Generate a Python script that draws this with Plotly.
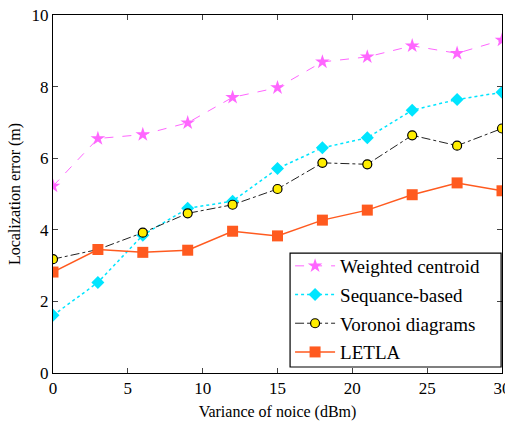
import plotly.graph_objects as go

x_vals = [0, 3, 6, 9, 12, 15, 18, 21, 24, 27, 30]
weighted_centroid = [5.22, 6.55, 6.66, 6.99, 7.70, 7.97, 8.69, 8.83, 9.14, 8.93, 9.30]
sequance_based = [1.61, 2.53, 3.85, 4.60, 4.80, 5.71, 6.29, 6.57, 7.34, 7.64, 7.84]
voronoi = [3.18, 3.45, 3.92, 4.46, 4.70, 5.14, 5.87, 5.83, 6.64, 6.35, 6.83]
letla = [2.82, 3.45, 3.37, 3.43, 3.96, 3.83, 4.27, 4.55, 4.98, 5.31, 5.09]

x_ticks = [0, 5, 10, 15, 20, 25, 30]
y_ticks = [0, 2, 4, 6, 8, 10]

FONT = "Liberation Serif"

fig = go.Figure()
fig.add_trace(go.Scatter(
    x=x_vals, y=weighted_centroid, name="Weighted centroid", mode="lines+markers", legendgroup="a",
    line=dict(color="#ff66ff", width=1, dash="dash"),
    marker=dict(symbol="star", size=11, color="#ff66ff", line=dict(width=0)),
))
fig.add_trace(go.Scatter(
    x=x_vals, y=sequance_based, name="Sequance-based", mode="lines+markers", legendgroup="b",
    line=dict(color="#00e5ff", width=1.5, dash="dot"),
    marker=dict(symbol="diamond", size=10, color="#00e5ff", line=dict(width=0)),
))
fig.add_trace(go.Scatter(
    x=x_vals, y=voronoi, name="Voronoi diagrams", mode="lines+markers", legendgroup="c",
    line=dict(color="#222222", width=1, dash="dashdot"),
    marker=dict(symbol="circle", size=9, color="#ffee00", line=dict(color="black", width=1.2)),
))
fig.add_trace(go.Scatter(
    x=x_vals, y=letla, name="LETLA", mode="lines+markers", legendgroup="d",
    line=dict(color="#ff5a1f", width=1.5),
    marker=dict(symbol="square", size=11, color="#ff5a1f", line=dict(width=0)),
))

# legend frame (matlab-style box)
fig.add_shape(type="rect", xref="paper", yref="paper", x0=0.528, x1=0.998, y0=0.0168, y1=0.335,
              line=dict(color="black", width=1.2), fillcolor="rgba(0,0,0,0)", layer="above")

fig.update_layout(
    width=505, height=423,
    margin=dict(l=53, r=3, t=15, b=50, autoexpand=False),
    paper_bgcolor="white", plot_bgcolor="white",
    font=dict(family=FONT, color="black", size=15),
    showlegend=True,
    legend=dict(
        x=0.528, xanchor="left", y=0.352, yanchor="top",
        borderwidth=0, bgcolor="rgba(0,0,0,0)",
        font=dict(family=FONT, size=19, color="black"),
        tracegroupgap=1, itemwidth=40,
    ),
    xaxis=dict(
        range=[0, 30], tickvals=x_ticks, ticks="inside", ticklen=5,
        showline=True, linecolor="black", linewidth=1, mirror="ticks",
        showgrid=False, zeroline=False, ticklabeloverflow="allow", automargin=False,
        tickfont=dict(family=FONT, size=17),
        title=dict(text="Variance of noice (dBm)", font=dict(family=FONT, size=16), standoff=8),
    ),
    yaxis=dict(
        range=[0, 10], tickvals=y_ticks, ticks="inside", ticklen=5,
        showline=True, linecolor="black", linewidth=1, mirror="ticks",
        showgrid=False, zeroline=False, automargin=False,
        tickfont=dict(family=FONT, size=17),
        title=dict(text="Localization error (m)", font=dict(family=FONT, size=16), standoff=6),
    ),
)

fig.write_html("out.html")
